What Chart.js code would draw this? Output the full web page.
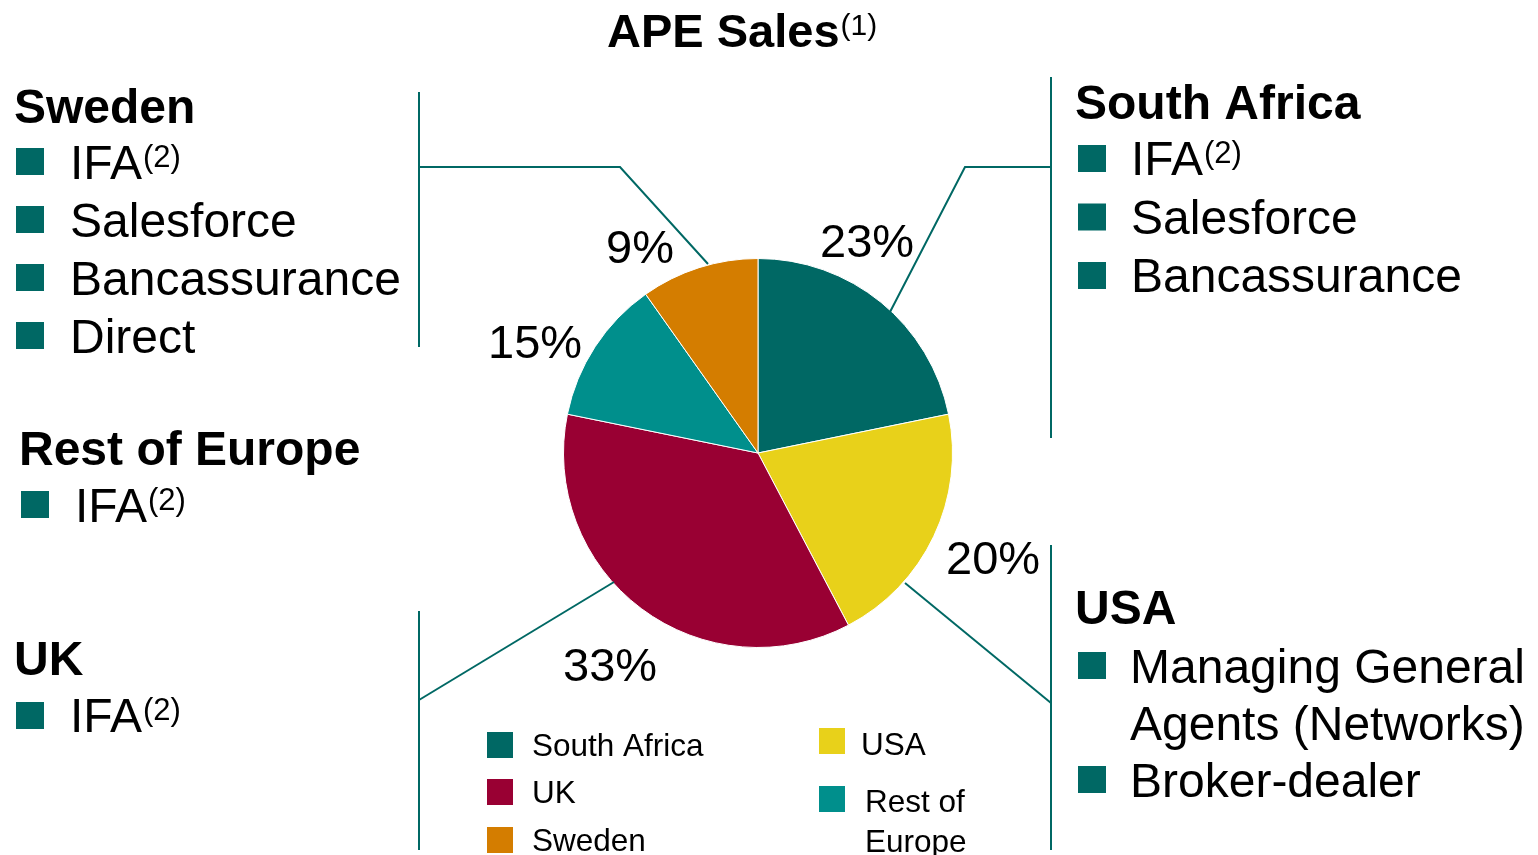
<!DOCTYPE html>
<html>
<head>
<meta charset="utf-8">
<script src="https://cdn.jsdelivr.net/npm/chart.js@4.4.1/dist/chart.umd.min.js"></script>
<style>
html,body{margin:0;padding:0;background:#fff;overflow:hidden}
#c{display:block}
</style>
</head>
<body>
<canvas id="c" width="1538" height="855"></canvas>
<script>
// ---- data ----
const categories = ["South Africa", "USA", "UK", "Rest of Europe", "Sweden"];
const values = [21.8, 20.5, 35.9, 12.0, 9.8];
const pctLabels = ["23%", "20%", "33%", "15%", "9%"];
const colors = ["#006864", "#E8D11A", "#990033", "#008F8C", "#D47D00"];
const legendOrder = ["South Africa", "UK", "Sweden", "USA", "Rest of Europe"];
const titleText = "APE Sales";
const titleSup = "(1)";

// channel blocks (text annotations)
const swedenItems = ["IFA", "Salesforce", "Bancassurance", "Direct"];
const southAfricaItems = ["IFA", "Salesforce", "Bancassurance"];
const restEuropeItems = ["IFA"];
const ukItems = ["IFA"];
const usaItems = [["Managing General", "Agents (Networks)"], ["Broker-dealer"]];

const FONT = "'Liberation Sans', Arial, Helvetica, sans-serif";
const TEAL = "#006864";

function supText(ctx, x, y, text, sup, size, bold) {
  ctx.font = (bold ? "bold " : "") + size + "px " + FONT;
  ctx.fillText(text, x, y);
  const w = ctx.measureText(text).width;
  if (sup) {
    ctx.font = Math.round(size * 0.64) + "px " + FONT;
    ctx.fillText(sup, x + w + 1, y - Math.round(size * 0.26));
  }
}

function bullet(ctx, x, y) {
  ctx.fillStyle = TEAL;
  ctx.fillRect(x, y, 28, 27);
  ctx.fillStyle = "#000";
}

const decor = {
  id: "decor",
  afterDraw(chart) {
    const ctx = chart.ctx;
    ctx.save();
    ctx.textBaseline = "alphabetic";
    ctx.textAlign = "left";
    ctx.fillStyle = "#000";

    // Title
    supText(ctx, 607, 47, titleText, titleSup, 47, true);

    // leader lines
    ctx.strokeStyle = TEAL;
    ctx.lineWidth = 2;
    const lines = [
      [[419, 92], [419, 347]],
      [[419, 167], [620, 167], [708, 264]],
      [[1051, 77], [1051, 438]],
      [[1051, 167], [965, 167], [890, 312]],
      [[1051, 545], [1051, 850]],
      [[1051, 703], [905, 583]],
      [[419, 611], [419, 850]],
      [[419, 700], [614, 582]]
    ];
    lines.forEach(pts => {
      ctx.beginPath();
      ctx.moveTo(pts[0][0], pts[0][1]);
      for (let i = 1; i < pts.length; i++) ctx.lineTo(pts[i][0], pts[i][1]);
      ctx.stroke();
    });

    const HB = "bold 48px " + FONT;
    const ITEM = 48;

    // Sweden block
    ctx.fillStyle = "#000";
    ctx.font = HB;
    ctx.fillText("Sweden", 14, 123);
    swedenItems.forEach((t, i) => {
      const by = 179 + i * 58;
      bullet(ctx, 16, by - 31);
      supText(ctx, 70, by, t, t === "IFA" ? "(2)" : null, ITEM, false);
    });

    // Rest of Europe block
    ctx.font = HB;
    ctx.fillText("Rest of Europe", 19, 465);
    restEuropeItems.forEach((t, i) => {
      const by = 522 + i * 58;
      bullet(ctx, 21, by - 31);
      supText(ctx, 75, by, t, "(2)", ITEM, false);
    });

    // UK block
    ctx.font = HB;
    ctx.fillText("UK", 14, 675);
    ukItems.forEach((t, i) => {
      const by = 732 + i * 58;
      bullet(ctx, 16, by - 30);
      supText(ctx, 70, by, t, "(2)", ITEM, false);
    });

    // South Africa block
    ctx.font = HB;
    ctx.fillText("South Africa", 1075, 119);
    southAfricaItems.forEach((t, i) => {
      const by = 175 + i * 58.5;
      bullet(ctx, 1078, by - 30);
      supText(ctx, 1131, by, t, t === "IFA" ? "(2)" : null, ITEM, false);
    });

    // USA block
    ctx.font = HB;
    ctx.fillText("USA", 1075, 624);
    let uy = 683;
    usaItems.forEach(lines2 => {
      bullet(ctx, 1078, uy - 31);
      ctx.font = ITEM + "px " + FONT;
      lines2.forEach((ln, j) => {
        ctx.fillText(ln, 1130, uy);
        uy += 57;
      });
    });

    // percentage labels
    const pctPos = [[820, 257], [946, 574], [563, 681], [488, 358], [606, 263]];
    ctx.font = "47px " + FONT;
    pctLabels.forEach((t, i) => ctx.fillText(t, pctPos[i][0], pctPos[i][1]));

    // legend
    const legPos = {
      "South Africa": [487, 732, 532, 756],
      "UK": [487, 779, 532, 803],
      "Sweden": [487, 827, 532, 851],
      "USA": [819, 728, 861, 755],
      "Rest of Europe": [819, 786, 865, 812]
    };
    const labels = chart.data.labels;
    const bg = chart.data.datasets[0].backgroundColor;
    ctx.font = "31.5px " + FONT;
    legendOrder.forEach(name => {
      const idx = labels.indexOf(name);
      const p = legPos[name];
      ctx.fillStyle = bg[idx];
      ctx.fillRect(p[0], p[1], 26, 26);
      ctx.fillStyle = "#000";
      if (name === "Rest of Europe") {
        ctx.fillText("Rest of", p[2], p[3]);
        ctx.fillText("Europe", p[2], p[3] + 40);
      } else {
        ctx.fillText(name, p[2], p[3]);
      }
    });

    ctx.restore();
  }
};

new Chart(document.getElementById("c"), {
  type: "pie",
  data: {
    labels: categories,
    datasets: [{
      data: values,
      backgroundColor: colors,
      borderColor: "#ffffff",
      borderWidth: 1
    }]
  },
  options: {
    responsive: false,
    animation: false,
    layout: { padding: { left: 563, right: 585, top: 256, bottom: 205 } },
    plugins: {
      legend: { display: false },
      tooltip: { enabled: false },
      title: { display: false }
    }
  },
  plugins: [decor]
});
</script>
</body>
</html>
